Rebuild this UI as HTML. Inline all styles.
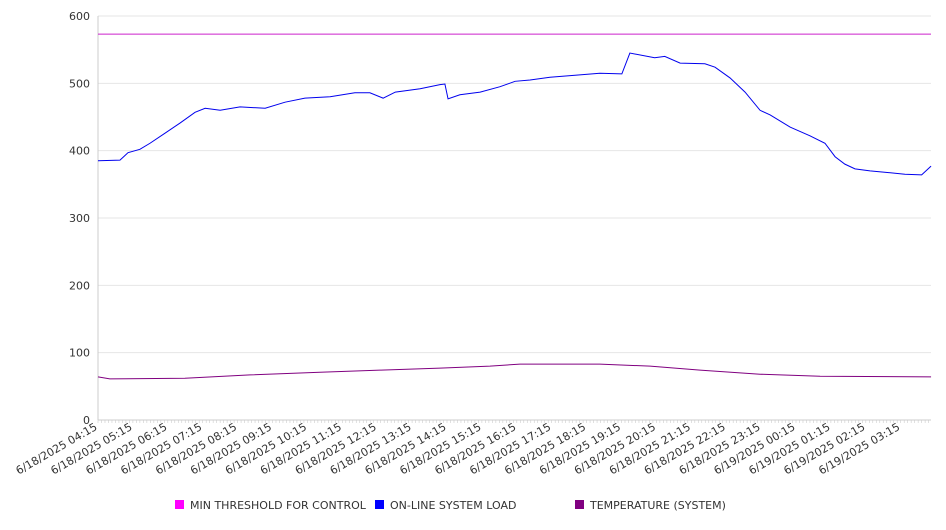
<!DOCTYPE html>
<html><head><meta charset="utf-8"><style>
body{margin:0;background:#fff;font-family:"DejaVu Sans","Liberation Sans",sans-serif;}
svg text{font-family:"DejaVu Sans","Liberation Sans",sans-serif;fill:#333;font-size:11px;}
</style></head><body>
<svg id="c" width="946" height="526"></svg>
<script>
const tickLabels=["6/18/2025 04:15","6/18/2025 05:15","6/18/2025 06:15","6/18/2025 07:15","6/18/2025 08:15","6/18/2025 09:15","6/18/2025 10:15","6/18/2025 11:15","6/18/2025 12:15","6/18/2025 13:15","6/18/2025 14:15","6/18/2025 15:15","6/18/2025 16:15","6/18/2025 17:15","6/18/2025 18:15","6/18/2025 19:15","6/18/2025 20:15","6/18/2025 21:15","6/18/2025 22:15","6/18/2025 23:15","6/19/2025 00:15","6/19/2025 01:15","6/19/2025 02:15","6/19/2025 03:15"];
const yTicks=[0,100,200,300,400,500,600];
const loadHours=[0,0.63,0.86,1.2,1.49,1.92,2.35,2.78,3.07,3.5,4.07,4.79,5.36,5.93,6.65,7.36,7.79,8.17,8.52,9.23,9.80,9.94,10.03,10.37,10.95,11.52,11.95,12.38,12.95,13.67,14.38,15.01,15.24,15.95,16.24,16.68,17.39,17.68,18.11,18.54,18.97,19.26,19.83,20.40,20.83,21.12,21.40,21.69,22.12,22.54,23.12,23.60,23.87];
const loadValues=[385,386,397,402,411,426,441,457,463,460,465,463,472,478,480,486,486,478,487,492,498,499,477,483,487,495,503,505,509,512,515,514,545,538,540,530,529,524,508,487,460,453,435,422,411,391,380,373,370,368,365,364,377];
const tempHours=[0,0.34,2.49,4.36,6.36,8.08,9.80,11.23,12.09,14.38,15.82,17.25,18.97,20.69,23.87];
const tempValues=[64,61,62,67,71,74,77,80,83,83,80,74,68,65,64];
const thresholdValue=573;
const X0=98,X1=931,Y0=420,Y1=16,HW=34.9;
const xs=h=>X0+h*HW, ys=v=>Y0-(v/600)*(Y0-Y1);
const svg=document.getElementById('c'),NS="http://www.w3.org/2000/svg";
function mk(t,a,p){const e=document.createElementNS(NS,t);for(const k in a)e.setAttribute(k,a[k]);(p||svg).appendChild(e);return e;}
yTicks.forEach(v=>{
 const g=mk('line',{x1:X0,x2:X1,y1:ys(v),y2:ys(v),stroke:v?'#e6e6e6':'#ccc'});
 
 
 const t=mk('text',{x:90,y:ys(v)+4,'text-anchor':'end'});t.textContent=v;
 
 
});
const ax=mk('line',{x1:X0,x2:X0,y1:Y1,y2:Y0,stroke:'#ccc'});


for(let h=0;h<=23.87;h+=0.1){const m=mk('line',{x1:xs(h),x2:xs(h),y1:Y0,y2:Y0+3,stroke:'#ccc','stroke-width':0.6});
 
 }
tickLabels.forEach((l,i)=>{const x=xs(i);
 const t=mk('text',{x:x,y:Y0+9,'text-anchor':'end',transform:`rotate(-30 ${x} ${Y0+9})`});t.textContent=l;
 
 });
const th=mk('line',{x1:X0,x2:X1,y1:ys(thresholdValue),y2:ys(thresholdValue),stroke:'#cc22cc','stroke-width':1});


const lp=mk('polyline',{points:loadHours.map((h,i)=>xs(h)+','+ys(loadValues[i])).join(' '),fill:'none',stroke:'#0000ee','stroke-width':1});


const tp=mk('polyline',{points:tempHours.map((h,i)=>xs(h)+','+ys(tempValues[i])).join(' '),fill:'none',stroke:'#800080','stroke-width':1});


[["MIN THRESHOLD FOR CONTROL","#ff00ff",175],["ON-LINE SYSTEM LOAD","#0000ff",375],["TEMPERATURE (SYSTEM)","#800080",575]].forEach(([n,c,x])=>{
 const r=mk('rect',{x:x,y:500,width:9,height:9,fill:c});
 
 
 const t=mk('text',{x:x+15,y:509});t.textContent=n;
 
 
});
</script>
</body></html>
